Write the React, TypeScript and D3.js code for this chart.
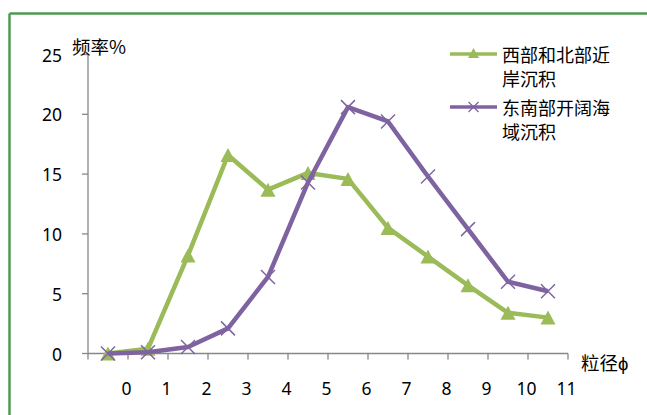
import React from "react";
import * as d3 from "d3";

// Grain size bin centres (phi) and frequency (%) for the two sediment groups
const grainSize = [-0.5, 0.5, 1.5, 2.5, 3.5, 4.5, 5.5, 6.5, 7.5, 8.5, 9.5, 10.5];
const westNorthCoast = [0, 0.4, 8.2, 16.6, 13.7, 15.1, 14.6, 10.5, 8.1, 5.7, 3.4, 3.0];
const southeastOpenSea = [0, 0.1, 0.55, 2.1, 6.4, 14.3, 20.6, 19.4, 14.8, 10.4, 6.0, 5.2];

const xTickValues = [-1, 0, 1, 2, 3, 4, 5, 6, 7, 8, 9, 10, 11];
const xLabelValues = [0, 1, 2, 3, 4, 5, 6, 7, 8, 9, 10, 11];
const yTickValues = [0, 5, 10, 15, 20, 25];

const seriesNames = [
  ["西部和北部近", "岸沉积"],
  ["东南部开阔海", "域沉积"],
];

const W = 647;
const H = 415;
const GREEN = "#9BBB59";
const PURPLE = "#7F63A1";
const AXIS = "#878787";
const FRAME = "#4E9B50";
const numFont = "'Noto Sans', 'Open Sans', sans-serif";
const cjkFont = "'Noto Sans CJK SC', sans-serif";

function Triangle({ cx, cy, w, h, color }: { cx: number; cy: number; w: number; h: number; color: string }) {
  const p = d3.path();
  p.moveTo(cx, cy - h / 2);
  p.lineTo(cx + w / 2, cy + h / 2);
  p.lineTo(cx - w / 2, cy + h / 2);
  p.closePath();
  return <path d={p.toString()} fill={color} />;
}

function Cross({ cx, cy, r, color, sw }: { cx: number; cy: number; r: number; color: string; sw: number }) {
  return (
    <g stroke={color} strokeWidth={sw}>
      <line x1={cx - r} y1={cy - r} x2={cx + r} y2={cy + r} />
      <line x1={cx - r} y1={cy + r} x2={cx + r} y2={cy - r} />
    </g>
  );
}

export default function App() {
  const x = d3.scaleLinear().domain([-1, 11]).range([88, 568]);
  const y = d3.scaleLinear().domain([0, 25]).range([353.5, 54.5]);

  const line = d3
    .line<number>()
    .x((_, i) => x(grainSize[i]))
    .y((d) => y(d));

  return (
    <svg
      width={W}
      height={H}
      style={{ position: "absolute", left: 0, top: 0, background: "#fff" }}
    >
      <rect x={0} y={0} width={W} height={H} fill="#fff" />
      {/* outer frame */}
      <line x1={9.5} y1={13.5} x2={W} y2={13.5} stroke={FRAME} strokeWidth={2.5} />
      <line x1={9.5} y1={13.5} x2={9.5} y2={H} stroke={FRAME} strokeWidth={2.5} />

      {/* y axis */}
      <line x1={x(-1)} y1={y(0)} x2={x(-1)} y2={y(25)} stroke={AXIS} strokeWidth={1.3} />
      {yTickValues.map((v) => (
        <g key={`y${v}`}>
          <line x1={x(-1) - 6} x2={x(-1)} y1={y(v)} y2={y(v)} stroke={AXIS} strokeWidth={1.3} />
          <text
            x={62}
            y={y(v)}
            textAnchor="end"
            dominantBaseline="central"
            fontFamily={numFont}
            fontSize={17.5}
            fill="#000"
          >
            {v}
          </text>
        </g>
      ))}

      {/* x axis */}
      <line x1={x(-1)} y1={y(0)} x2={x(11)} y2={y(0)} stroke={AXIS} strokeWidth={1.3} />
      {xTickValues.map((v) => (
        <line key={`xt${v}`} x1={x(v)} x2={x(v)} y1={y(0)} y2={y(0) + 6} stroke={AXIS} strokeWidth={1.3} />
      ))}
      {xLabelValues.map((v) => (
        <text
          key={`xl${v}`}
          x={x(v) - 1.5}
          y={388}
          textAnchor="middle"
          dominantBaseline="central"
          fontFamily={numFont}
          fontSize={17.5}
          fill="#000"
        >
          {v}
        </text>
      ))}

      {/* axis titles */}
      <text x={72} y={46} dominantBaseline="central" fontFamily={cjkFont} fontSize={18.5} fill="#000">
        频率%
      </text>
      <text x={581} y={362} dominantBaseline="central" fontFamily={cjkFont} fontSize={18.5} fill="#000">
        粒径ϕ
      </text>

      {/* west & north coast series */}
      <path d={line(westNorthCoast) || ""} fill="none" stroke={GREEN} strokeWidth={4.5} strokeLinejoin="round" />
      {westNorthCoast.map((v, i) => (
        <Triangle key={`g${i}`} cx={x(grainSize[i])} cy={y(v)} w={15} h={14} color={GREEN} />
      ))}

      {/* southeast open sea series */}
      <path d={line(southeastOpenSea) || ""} fill="none" stroke={PURPLE} strokeWidth={4.5} strokeLinejoin="round" />
      {southeastOpenSea.map((v, i) => (
        <Cross key={`p${i}`} cx={x(grainSize[i])} cy={y(v)} r={7} color={PURPLE} sw={1.5} />
      ))}

      {/* legend */}
      <g>
        <line x1={450} x2={497} y1={54} y2={54} stroke={GREEN} strokeWidth={3.5} />
        <Triangle cx={473.5} cy={53} w={11} h={10} color={GREEN} />
        {seriesNames[0].map((t, i) => (
          <text key={`l0${i}`} x={502} y={54 + i * 24} dominantBaseline="central" fontFamily={cjkFont} fontSize={18} fill="#000">
            {t}
          </text>
        ))}
        <line x1={450} x2={497} y1={107} y2={107} stroke={PURPLE} strokeWidth={3.5} />
        <Cross cx={473.5} cy={107} r={5} color={PURPLE} sw={1.3} />
        {seriesNames[1].map((t, i) => (
          <text key={`l1${i}`} x={502} y={107 + i * 24} dominantBaseline="central" fontFamily={cjkFont} fontSize={18} fill="#000">
            {t}
          </text>
        ))}
      </g>
    </svg>
  );
}
